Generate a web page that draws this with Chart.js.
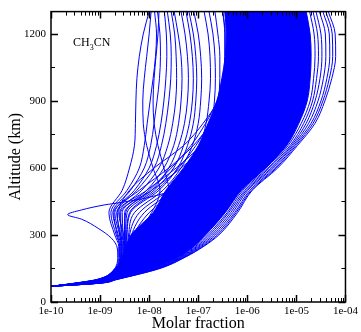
<!DOCTYPE html>
<html>
<head>
<meta charset="utf-8">
<script src="https://cdn.jsdelivr.net/npm/chart.js@4.4.1/dist/chart.umd.min.js"></script>
<style>
  html, body { margin: 0; padding: 0; background: #fff; }
  canvas { display: block; }
</style>
</head>
<body>
<canvas id="chart" width="361" height="332"></canvas>
<script>
// Altitude levels (km) shared by the profiles
const altLevels = [70, 85, 100, 150, 200, 250, 300, 400, 500, 600, 700, 800, 900, 1000, 1100, 1200, 1300];

// Profiles are stored as log10 of the molar fraction at each altitude level
// Dense core of the bundle: left and right edges
const bandLeft  = [-10, -9.5, -9.08, -8.68, -8.55, -8.47, -8.37, -7.92, -7.66, -7.3, -7.0, -6.8, -6.62, -6.52, -6.45, -6.43, -6.46];
const bandRight = [-10, -9.03, -8.75, -7.92, -7.4, -7.08, -6.85, -6.45, -6.12, -5.62, -5.2, -4.95, -4.78, -4.72, -4.7, -4.72, -4.8];

// Loose profiles on the right side of the bundle
const rightEdgeLines = [
  [-10, -9.02, -8.74, -7.9, -7.38, -7.05, -6.81, -6.41, -6.09, -5.58, -5.17, -4.9, -4.72, -4.65, -4.62, -4.64, -4.73],
  [-10, -9.01, -8.73, -7.88, -7.36, -7.02, -6.77, -6.38, -6.05, -5.55, -5.13, -4.85, -4.67, -4.59, -4.55, -4.57, -4.66],
  [-10, -9.0, -8.72, -7.86, -7.34, -6.99, -6.73, -6.34, -6.02, -5.51, -5.1, -4.8, -4.62, -4.52, -4.48, -4.5, -4.6],
  [-10, -8.99, -8.7, -7.84, -7.32, -6.96, -6.69, -6.3, -5.99, -5.48, -5.07, -4.75, -4.56, -4.45, -4.4, -4.41, -4.53],
  [-10, -8.98, -8.69, -7.82, -7.3, -6.93, -6.65, -6.26, -5.95, -5.44, -5.04, -4.7, -4.5, -4.38, -4.32, -4.33, -4.46],
  [-10, -8.97, -8.68, -7.8, -7.28, -6.9, -6.61, -6.23, -5.92, -5.41, -5.01, -4.66, -4.46, -4.33, -4.26, -4.27, -4.4],
  [-10, -8.96, -8.67, -7.78, -7.27, -6.88, -6.58, -6.2, -5.9, -5.38, -4.98, -4.62, -4.42, -4.28, -4.2, -4.21, -4.35]
];

// Loose profiles in the upper left
const upperLeftLines = [
  [-10, -9.48, -9.07, -8.7, -8.62, -8.62, -8.7, -8.82, -8.55, -8.4, -8.3, -8.28, -8.27, -8.25, -8.2, -8.12, -8.0],
  [-10, -9.47, -9.06, -8.69, -8.6, -8.6, -8.67, -8.78, -8.45, -8.2, -8.1, -8.04, -7.98, -7.92, -7.87, -7.85, -7.89],
  [-10, -9.46, -9.05, -8.68, -8.58, -8.58, -8.63, -8.74, -8.38, -8.1, -7.97, -7.9, -7.84, -7.79, -7.77, -7.78, -7.83],
  [-10, -9.45, -9.04, -8.67, -8.57, -8.56, -8.6, -8.7, -8.3, -8.0, -7.85, -7.76, -7.7, -7.66, -7.64, -7.65, -7.69],
  [-10, -9.44, -9.03, -8.66, -8.56, -8.55, -8.58, -8.66, -8.25, -7.9, -7.75, -7.66, -7.6, -7.56, -7.55, -7.57, -7.63],
  [-10, -9.43, -9.02, -8.65, -8.55, -8.53, -8.55, -8.6, -8.15, -7.8, -7.62, -7.52, -7.46, -7.44, -7.45, -7.48, -7.55],
  [-10, -9.42, -9.01, -8.64, -8.54, -8.52, -8.53, -8.55, -8.05, -7.7, -7.5, -7.4, -7.35, -7.33, -7.35, -7.41, -7.49],
  [-10, -9.41, -9.0, -8.63, -8.53, -8.5, -8.5, -8.5, -7.95, -7.6, -7.4, -7.28, -7.22, -7.2, -7.22, -7.27, -7.35],
  [-10, -9.4, -8.99, -8.62, -8.52, -8.48, -8.48, -8.45, -7.9, -7.5, -7.3, -7.18, -7.12, -7.1, -7.12, -7.17, -7.25],
  [-10, -9.4, -8.98, -8.61, -8.5, -8.46, -8.45, -8.38, -7.8, -7.42, -7.22, -7.1, -7.05, -7.03, -7.05, -7.1, -7.19],
  [-10, -9.39, -8.97, -8.6, -8.49, -8.44, -8.42, -8.3, -7.72, -7.35, -7.12, -7.0, -6.95, -6.93, -6.95, -7.0, -7.09],
  [-10, -9.38, -8.96, -8.59, -8.48, -8.42, -8.4, -8.2, -7.62, -7.22, -6.97, -6.84, -6.78, -6.75, -6.76, -6.8, -6.88],
  [-10, -9.37, -8.95, -8.58, -8.47, -8.4, -8.36, -8.1, -7.52, -7.12, -6.87, -6.73, -6.67, -6.65, -6.66, -6.7, -6.78],
  [-10, -9.36, -8.94, -8.57, -8.46, -8.38, -8.32, -8.0, -7.46, -7.06, -6.8, -6.66, -6.59, -6.56, -6.56, -6.6, -6.66]
];

// Profiles that drift left between 500 and 900 km
const crossLines = [
  [-10, -9.35, -8.93, -8.56, -8.45, -8.36, -8.25, -7.95, -7.78, -7.92, -8.05, -8.12, -8.13, -8.1, -8.05, -8.0, -7.96],
  [-10, -9.34, -8.92, -8.55, -8.43, -8.33, -8.2, -7.85, -7.6, -7.7, -7.82, -7.9, -7.92, -7.9, -7.86, -7.82, -7.8]
];

// Profiles that bulge left near 400 km then join the core
const innerLines = [
  [-10, -9.44, -9.03, -8.68, -8.6, -8.6, -8.65, -8.72, -8.2, -7.6, -7.1, -6.75, -6.5, -6.35, -6.3, -6.3, -6.35],
  [-10, -9.43, -9.02, -8.67, -8.58, -8.57, -8.6, -8.65, -8.05, -7.45, -6.95, -6.6, -6.4, -6.28, -6.22, -6.22, -6.28],
  [-10, -9.42, -9.0, -8.66, -8.57, -8.55, -8.57, -8.58, -7.95, -7.35, -6.85, -6.5, -6.3, -6.2, -6.15, -6.15, -6.2],
  [-10, -9.41, -8.99, -8.63, -8.53, -8.5, -8.52, -8.62, -8.4, -7.9, -7.3, -6.9, -6.6, -6.45, -6.4, -6.4, -6.45],
  [-10, -9.4, -8.98, -8.62, -8.52, -8.49, -8.5, -8.48, -8.0, -7.55, -7.15, -6.85, -6.62, -6.5, -6.45, -6.45, -6.5],
  [-10, -9.39, -8.97, -8.61, -8.5, -8.47, -8.46, -8.4, -7.85, -7.4, -7.05, -6.78, -6.6, -6.5, -6.46, -6.46, -6.5]
];

// The single profile with the loop near 400 km
const loopAlt  = [70, 85, 100, 130, 162, 206, 242, 286, 330, 371, 391, 412, 435, 444, 461, 480, 500, 600, 700, 800, 900, 1000, 1100, 1200, 1300];
const loopLine = [-10, -9.46, -9.05, -8.78, -8.67, -8.64, -8.65, -8.77, -9.04, -9.38, -9.66, -9.38, -8.9, -8.62, -8.16, -7.8, -7.5, -6.9, -6.55, -6.4, -6.3, -6.2, -6.15, -6.15, -6.2];

// Axes
const xTickValues = [1e-10, 1e-9, 1e-8, 1e-7, 1e-6, 1e-5, 1e-4];
const xTickLabels = ['1e-10', '1e-09', '1e-08', '1e-07', '1e-06', '1e-05', '1e-04'];
const yTickValues = [0, 300, 600, 900, 1200];
const yTickLabels = ['0', '300', '600', '900', '1200'];

const BLUE = 'rgb(0,0,255)';
const SERIF = '"Liberation Serif", "Times New Roman", serif';

function toPoints(alts, exps) {
    return alts.map((a, i) => ({ x: Math.pow(10, exps[i]), y: a }));
}

function profile(alts, exps, fill) {
    return {
        data: toPoints(alts, exps),
        showLine: true,
        borderColor: BLUE,
        backgroundColor: BLUE,
        borderWidth: 1,
        pointRadius: 0,
        fill: fill || false,
        indexAxis: 'y',
        cubicInterpolationMode: 'monotone'
    };
}

// core band: left edge filled up to the right edge
const datasets = [
    profile(altLevels, bandLeft, '+1'),
    profile(altLevels, bandRight)
];
rightEdgeLines.forEach(p => datasets.push(profile(altLevels, p)));
upperLeftLines.forEach(p => datasets.push(profile(altLevels, p)));
crossLines.forEach(p => datasets.push(profile(altLevels, p)));
innerLines.forEach(p => datasets.push(profile(altLevels, p)));
datasets.push(profile(loopAlt, loopLine));

// inward ticks on all four sides, frame, species label
const frame = {
    id: 'frame',
    afterDraw(chart) {
        const { ctx, chartArea: a } = chart;
        const xs = chart.scales.x;
        const ys = chart.scales.y;
        ctx.save();
        ctx.strokeStyle = '#000';

        // x ticks
        for (let e = -10; e <= -4; e++) {
            for (let m = 1; m <= 9; m++) {
                const v = m * Math.pow(10, e);
                if (v > 1.0001e-4) break;
                const px = Math.round(xs.getPixelForValue(v)) + 0.5;
                const len = m === 1 ? 7 : 4;
                ctx.lineWidth = m === 1 ? 1.5 : 1;
                ctx.beginPath();
                ctx.moveTo(px, a.bottom); ctx.lineTo(px, a.bottom - len);
                ctx.moveTo(px, a.top); ctx.lineTo(px, a.top + len);
                ctx.stroke();
            }
        }
        // y ticks
        for (let v = 0; v <= 1300; v += 150) {
            const py = Math.round(ys.getPixelForValue(v)) + 0.5;
            const major = v % 300 === 0;
            const len = major ? 7 : 4;
            ctx.lineWidth = major ? 1.5 : 1;
            ctx.beginPath();
            ctx.moveTo(a.left, py); ctx.lineTo(a.left + len, py);
            ctx.moveTo(a.right, py); ctx.lineTo(a.right - len, py);
            ctx.stroke();
        }

        ctx.lineWidth = 1.5;
        ctx.strokeRect(a.left, a.top, a.right - a.left, a.bottom - a.top);

        // CH3CN
        ctx.fillStyle = '#000';
        ctx.textBaseline = 'alphabetic';
        ctx.textAlign = 'left';
        let x = 73;
        ctx.font = '12px ' + SERIF;
        ctx.fillText('CH', x, 46);
        x += ctx.measureText('CH').width;
        ctx.font = '8px ' + SERIF;
        ctx.fillText('3', x, 50);
        x += ctx.measureText('3').width;
        ctx.font = '12px ' + SERIF;
        ctx.fillText('CN', x, 46);
        ctx.restore();
    }
};

new Chart(document.getElementById('chart'), {
    type: 'scatter',
    data: { datasets: datasets },
    options: {
        responsive: false,
        animation: false,
        indexAxis: 'y',
        layout: { padding: { top: 7, right: 14, left: 0, bottom: 0 } },
        plugins: {
            legend: { display: false },
            tooltip: { enabled: false }
        },
        scales: {
            x: {
                type: 'logarithmic',
                position: 'bottom',
                min: 1e-10,
                max: 1e-4,
                grid: { display: false, drawTicks: false },
                border: { display: false },
                afterBuildTicks: s => { s.ticks = xTickValues.map(v => ({ value: v })); },
                afterFit: s => { s.height = 30; },
                ticks: {
                    autoSkip: false,
                    maxRotation: 0,
                    padding: 3,
                    color: '#000',
                    font: { family: SERIF, size: 11 },
                    callback: (v, i) => xTickLabels[i]
                },
                title: {
                    display: true,
                    text: 'Molar fraction',
                    color: '#000',
                    padding: 0,
                    font: { family: SERIF, size: 16, lineHeight: 1 }
                }
            },
            y: {
                type: 'linear',
                position: 'left',
                min: 0,
                max: 1300,
                grid: { display: false, drawTicks: false },
                border: { display: false },
                afterBuildTicks: s => { s.ticks = yTickValues.map(v => ({ value: v })); },
                afterFit: s => { s.width = 51; },
                ticks: {
                    padding: 5,
                    color: '#000',
                    font: { family: SERIF, size: 11 },
                    callback: (v, i) => yTickLabels[i]
                },
                title: {
                    display: true,
                    text: 'Altitude (km)',
                    color: '#000',
                    padding: { top: 8, bottom: 0 },
                    font: { family: SERIF, size: 16, lineHeight: 1 }
                }
            }
        }
    },
    plugins: [frame]
});
</script>
</body>
</html>
